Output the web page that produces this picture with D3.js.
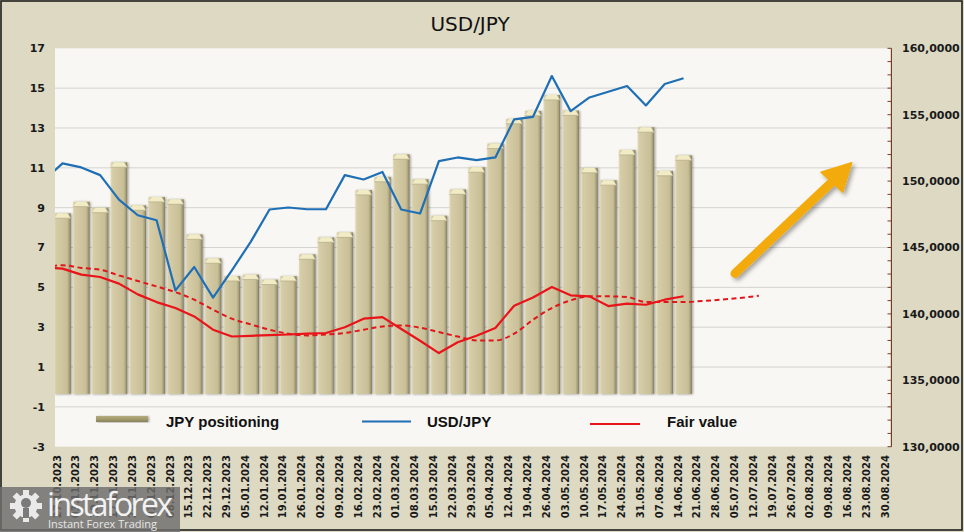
<!DOCTYPE html>
<html><head><meta charset="utf-8">
<script src="https://cdn.jsdelivr.net/npm/d3@7"></script>
<style>html,body{margin:0;padding:0;background:#fff}svg{display:block}</style>
</head><body><svg id="c" width="964" height="532"></svg>
<script>
// ---------- data ----------
const dates = ["27.10.2023","03.11.2023","10.11.2023","17.11.2023","24.11.2023","01.12.2023","08.12.2023",
"15.12.2023","22.12.2023","29.12.2023","05.01.2024","12.01.2024","19.01.2024","26.01.2024","02.02.2024",
"09.02.2024","16.02.2024","23.02.2024","01.03.2024","08.03.2024","15.03.2024","22.03.2024","29.03.2024",
"05.04.2024","12.04.2024","19.04.2024","26.04.2024","03.05.2024","10.05.2024","17.05.2024","24.05.2024",
"31.05.2024","07.06.2024","14.06.2024","21.06.2024","28.06.2024","05.07.2024","12.07.2024","19.07.2024",
"26.07.2024","02.08.2024","09.08.2024","16.08.2024","23.08.2024","30.08.2024"];
const prevDate = "20.10.2023"; // week before the first label (lines start off-chart)
const jpyPositioning = [8.72,9.30,9.00,11.28,9.12,9.54,9.42,7.66,6.46,5.57,5.64,5.39,5.57,6.66,7.51,7.76,
9.89,10.55,11.68,10.43,8.60,9.92,11.03,12.22,13.46,13.86,14.66,13.88,11.00,10.38,11.90,13.04,10.85,11.63];
// line series begin at prevDate
const usdJpy = [150.04,151.33,151.03,150.45,148.61,147.43,147.05,141.77,143.53,141.22,143.28,145.42,147.86,
148.01,147.88,147.88,150.45,150.12,150.69,147.86,147.56,151.50,151.78,151.58,151.78,154.65,154.84,157.91,
155.27,156.30,156.73,157.16,155.70,157.31,157.74];
const fairValue = [143.50,143.41,142.96,142.78,142.28,141.47,140.89,140.44,139.81,138.81,138.30,138.35,138.40,
138.45,138.51,138.56,139.00,139.64,139.76,138.86,137.98,137.05,137.86,138.36,138.94,140.62,141.24,142.02,
141.40,141.32,140.59,140.77,140.69,141.07,141.33];
const fairValueTrend = [143.53,143.66,143.46,143.33,142.90,142.48,142.07,141.64,141.07,140.32,139.64,139.21,
138.81,138.51,138.38,138.45,138.56,138.81,139.06,139.13,138.96,138.63,138.30,138.00,138.00,138.51,139.56,
140.44,141.02,141.32,141.32,141.27,140.89,140.89,140.89,140.97,141.07,141.20,141.37];
const leftTicks = [17,15,13,11,9,7,5,3,1,-1,-3];
const rightTicks = [160,155,150,145,140,135,130];
const legendLabels = ["JPY positioning","USD/JPY","Fair value"];
const title = "USD/JPY";

// ---------- layout ----------
const W=964,H=532;
const P={l:55,r:890,t:48.3,b:446.7};
const svg=d3.select("#c");
const defs=svg.append("defs");

const allDates=[prevDate,...dates];
const step=18.82;
const x=d3.scaleBand().domain(allDates).range([62.5-step*1.5, 62.5-step*1.5+step*allDates.length]).padding(0);
const xc=d=>x(d)+x.bandwidth()/2;
const yL=d3.scaleLinear().domain([-3,17]).range([P.b,P.t]);
const yR=d3.scaleLinear().domain([130,160]).range([P.b,P.t]);
const barBase=-0.35;

// defs
const g1=defs.append("linearGradient").attr("id","barG").attr("x1",0).attr("x2",1).attr("y1",0).attr("y2",0);
[[0,"#e4ddba"],[0.1,"#d6cda7"],[0.5,"#cec59e"],[0.78,"#c8bf97"],[0.9,"#aaa27b"],[1,"#7e775a"]]
 .forEach(s=>g1.append("stop").attr("offset",s[0]).attr("stop-color",s[1]));
const g2=defs.append("linearGradient").attr("id","legG").attr("x1",0).attr("x2",0).attr("y1",0).attr("y2",1);
[[0,"#b3ab7e"],[0.5,"#a39b6c"],[1,"#8a835a"]].forEach(s=>g2.append("stop").attr("offset",s[0]).attr("stop-color",s[1]));
const sh=defs.append("filter").attr("id","sh").attr("x","-30%").attr("y","-10%").attr("width","160%").attr("height","120%");
sh.append("feDropShadow").attr("dx",1.2).attr("dy",0.5).attr("stdDeviation",0.9).attr("flood-color","#000").attr("flood-opacity",0.35);
const sh2=defs.append("filter").attr("id","sh2").attr("x","-20%").attr("y","-20%").attr("width","150%").attr("height","150%");
sh2.append("feDropShadow").attr("dx",2.5).attr("dy",2.5).attr("stdDeviation",2).attr("flood-color","#000").attr("flood-opacity",0.35);
defs.append("clipPath").attr("id","clip").append("rect").attr("x",P.l).attr("y",P.t).attr("width",P.r-P.l).attr("height",P.b-P.t);

// background
svg.append("rect").attr("width",W).attr("height",H).attr("fill","#ddd9c3");
svg.append("rect").attr("x",P.l).attr("y",P.t).attr("width",P.r-P.l).attr("height",P.b-P.t).attr("fill","#f8f7f3");
svg.append("rect").attr("x",1).attr("y",1).attr("width",W-3).attr("height",H-3).attr("fill","none").attr("stroke","#1e1e1e").attr("stroke-width",1.6);

// gridlines
svg.append("g").selectAll("line").data(leftTicks.filter(t=>t<17&&t>-3)).join("line")
 .attr("x1",P.l).attr("x2",P.r).attr("y1",d=>yL(d)).attr("y2",d=>yL(d))
 .attr("stroke","#d3d3d1").attr("stroke-width",1);

// bars
const bw=x.bandwidth()*0.88;
const bars=svg.append("g").attr("clip-path","url(#clip)");
const bd=jpyPositioning.map((v,i)=>({d:dates[i],v}));
const bg=bars.selectAll("g").data(bd).join("g").attr("filter","url(#sh)");
bg.append("rect").attr("x",d=>xc(d.d)-bw/2).attr("width",bw)
 .attr("y",d=>yL(d.v)).attr("height",d=>yL(barBase)-yL(d.v)).attr("fill","url(#barG)");
bg.append("path").attr("d",d=>{const x0=xc(d.d)-bw/2,x1=xc(d.d)+bw/2,t=yL(d.v);
  return `M${x0},${t+5}L${x0+3.5},${t}L${x1-3.5},${t}L${x1},${t+5}Z`;}).attr("fill","#f1ebc6");
bg.append("path").attr("d",d=>{const x0=xc(d.d)-bw/2,x1=xc(d.d)+bw/2,t=yL(d.v);
  return `M${x0},${t+5}L${x1},${t+5}`;}).attr("stroke","#b9b08a").attr("stroke-width",0.8);

// lines
const lines=svg.append("g").attr("clip-path","url(#clip)");
const mk=(arr,sc,curve)=>d3.line().x((v,i)=>xc(allDates[i])).y(v=>sc(v)).curve(curve||d3.curveLinear)(arr);
lines.append("path").attr("d",mk(fairValueTrend,yR,d3.curveMonotoneX)).attr("fill","none")
 .attr("stroke","#e0161a").attr("stroke-width",2).attr("stroke-dasharray","5,3.5");
lines.append("path").attr("d",mk(fairValue,yR)).attr("fill","none").attr("stroke","#e8141a").attr("stroke-width",2.2).attr("stroke-linejoin","round");
lines.append("path").attr("d",mk(usdJpy,yR)).attr("fill","none").attr("stroke","#1f6fb6").attr("stroke-width",2.2).attr("stroke-linejoin","round");

// right axis
const ra=svg.append("g");
ra.append("line").attr("x1",P.r+1.5).attr("x2",P.r+1.5).attr("y1",P.t).attr("y2",P.b).attr("stroke","#7a3a2c").attr("stroke-width",1);
ra.selectAll("line.t").data(d3.range(130,161,1)).join("line").attr("class","t")
 .attr("x1",P.r-2.5).attr("x2",P.r+1.5).attr("y1",d=>yR(d)).attr("y2",d=>yR(d)).attr("stroke","#7a3a2c").attr("stroke-width",1);
ra.selectAll("text").data(rightTicks).join("text").attr("x",902).attr("y",d=>yR(d)).attr("dy","0.36em")
 .attr("font-family","DejaVu Sans, Verdana, sans-serif").attr("font-weight","bold").attr("font-size",11).attr("fill","#1a1a1a")
 .text(d=>d3.format(".4f")(d).replace(".",","));

// left axis labels
svg.append("g").selectAll("text").data(leftTicks).join("text").attr("x",45).attr("y",d=>yL(d)).attr("dy","0.36em")
 .attr("text-anchor","end").attr("font-family","DejaVu Sans, Verdana, sans-serif").attr("font-weight","bold")
 .attr("font-size",11).attr("fill","#1a1a1a").text(d=>d);

// x labels
svg.append("g").selectAll("text").data(dates).join("text")
 .attr("transform",d=>`translate(${xc(d)-5.5},455) rotate(-90)`).attr("dy","0.36em").attr("text-anchor","end")
 .attr("font-family","DejaVu Sans, Verdana, sans-serif").attr("font-weight","bold").attr("font-size",10).attr("fill","#1a1a1a")
 .text(d=>d);

// title
svg.append("text").attr("x",470).attr("y",31).attr("text-anchor","middle").attr("font-family","DejaVu Sans, Verdana, sans-serif")
 .attr("font-size",20).attr("fill","#111").text(title);

// legend
const lg=svg.append("g").attr("font-family","Liberation Sans, Arial, sans-serif").attr("font-weight","bold").attr("font-size",15).attr("fill","#111");
lg.append("rect").attr("x",96).attr("y",416).attr("width",52).attr("height",6).attr("fill","url(#legG)").attr("filter","url(#sh)");
lg.append("text").attr("x",166).attr("y",422).attr("dy","0.35em").text(legendLabels[0]);
lg.append("line").attr("x1",362).attr("x2",411).attr("y1",421.5).attr("y2",421.5).attr("stroke","#1f6fb6").attr("stroke-width",2);
lg.append("text").attr("x",427).attr("y",422).attr("dy","0.35em").text(legendLabels[1]);
lg.append("line").attr("x1",590).attr("x2",640).attr("y1",424).attr("y2",424).attr("stroke","#e8141a").attr("stroke-width",2);
lg.append("text").attr("x",667).attr("y",422).attr("dy","0.35em").text(legendLabels[2]);

// arrow annotation
const ag=svg.append("g").attr("filter","url(#sh2)");
ag.append("line").attr("x1",735).attr("y1",273.5).attr("x2",833).attr("y2",181).attr("stroke","#f2aa0c").attr("stroke-width",9).attr("stroke-linecap","round");
ag.append("path").attr("d","M821,172.3L851.7,162.7L842.7,192.3Z").attr("fill","#f2aa0c").attr("stroke","#f2aa0c").attr("stroke-width",1.5).attr("stroke-linejoin","round");

// watermark
const wm=svg.append("g");
wm.append("rect").attr("x",0).attr("y",487).attr("width",180).attr("height",45).attr("fill","#6e6e6e").attr("opacity",0.82);
const gear=wm.append("g").attr("transform","translate(26,506)").attr("fill","#e9e9e9");
d3.range(8).forEach(k=>gear.append("rect").attr("x",-3).attr("y",-16).attr("width",6).attr("height",7).attr("transform",`rotate(${k*45})`));
gear.append("circle").attr("r",11.5);
gear.append("circle").attr("r",5).attr("cy",-3).attr("fill","#7a7a7a");
gear.append("rect").attr("x",-3).attr("y",2).attr("width",6).attr("height",10).attr("fill","#7a7a7a");
wm.append("text").attr("x",47).attr("y",516).attr("font-family","Open Sans, sans-serif").attr("font-size",32).attr("fill","#f2f2f2")
 .attr("textLength",126).text("instaforex");
wm.append("text").attr("x",48).attr("y",528).attr("font-family","Open Sans, sans-serif").attr("font-size",11).attr("fill","#e6e6e6")
 .text("Instant Forex Trading");
</script></body></html>
